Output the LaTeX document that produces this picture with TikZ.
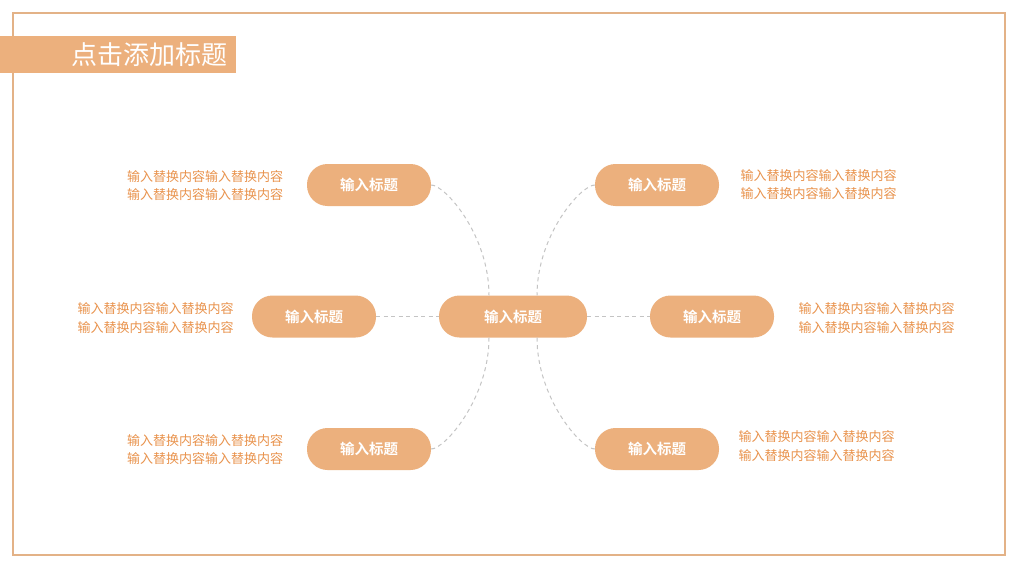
\documentclass[tikz,border=0pt]{standalone}
\usepackage{fontspec}
\setmainfont{Noto Sans CJK SC}
\newfontfamily\cjkb{Noto Sans CJK SC Bold}
\usetikzlibrary{calc}
\definecolor{pill}{HTML}{ECB07D}
\definecolor{txt}{HTML}{E9934D}
\definecolor{frame}{HTML}{E3B287}
\definecolor{conn}{HTML}{C4C4C4}
\tikzset{
  pillbox/.style={fill=pill, draw=none, rounded corners=20.5pt, minimum width=124pt, minimum height=42pt, inner sep=0pt, text=white, font=\cjkb\fontsize{14.5}{16}\selectfont},
  body/.style={text=txt, align=center, inner sep=0pt, font=\fontsize{13}{18.5}\selectfont},
  link/.style={draw=conn, line width=1pt, dash pattern=on 4pt off 3.5pt},
}
\begin{document}
\begin{tikzpicture}[x=1pt,y=-1pt]
\useasboundingbox (0,0) rectangle (1024,575);
\fill[white] (0,0) rectangle (1024,575);
\draw[frame, line width=1.8pt] (13,13) rectangle (1005,555);
\fill[pill] (0,36) rectangle (236,73);
\node[anchor=west, text=white, inner sep=0pt, font=\fontsize{26}{29}\selectfont] (title) at (71,55) {点击添加标题};

\node[pillbox, minimum width=148pt] (c) at (513,316.5) {输入标题};
\node[pillbox] (ml) at (314,316.5) {输入标题};
\node[pillbox] (mr) at (712,316.5) {输入标题};
\node[pillbox] (tl) at (369,185) {输入标题};
\node[pillbox] (tr) at (657,185) {输入标题};
\node[pillbox] (bl) at (369,449) {输入标题};
\node[pillbox] (br) at (657,449) {输入标题};

\node[body] (ttl) at (205,185.5) {输入替换内容输入替换内容\\输入替换内容输入替换内容};
\node[body] (tml) at (155.5,318) {输入替换内容输入替换内容\\输入替换内容输入替换内容};
\node[body] (tbl) at (205,449.5) {输入替换内容输入替换内容\\输入替换内容输入替换内容};
\node[body] (ttr) at (818.5,184.5) {输入替换内容输入替换内容\\输入替换内容输入替换内容};
\node[body] (tmr) at (876.5,318) {输入替换内容输入替换内容\\输入替换内容输入替换内容};
\node[body] (tbr) at (816.5,446) {输入替换内容输入替换内容\\输入替换内容输入替换内容};

\draw[link] (ml.east) -- (c.west);
\draw[link] (c.east) -- (mr.west);
\draw[link] (tl.east) .. controls (445,185) and (489,235) .. ($(c.north)+(-24,0)$);
\draw[link] (tr.west) .. controls (581,185) and (537,235) .. ($(c.north)+(24,0)$);
\draw[link] (bl.east) .. controls (445,449) and (489,398) .. ($(c.south)+(-24,0)$);
\draw[link] (br.west) .. controls (581,449) and (537,398) .. ($(c.south)+(24,0)$);
\end{tikzpicture}
\end{document}
